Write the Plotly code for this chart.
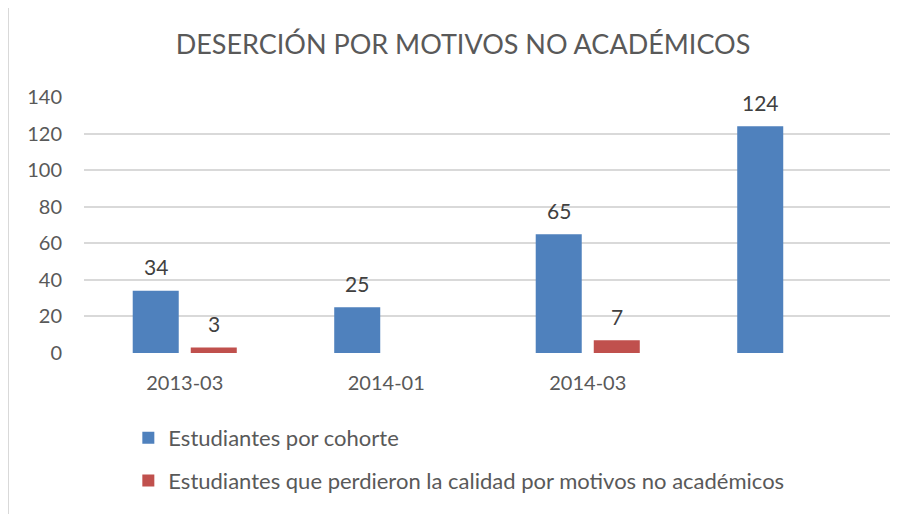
import plotly.graph_objects as go

categories = ["2013-03", "2014-01", "2014-03", " "]
cohorte = [34, 25, 65, 124]
perdieron = [3, None, 7, None]
series_names = [
    "Estudiantes por cohorte",
    "Estudiantes que perdieron la calidad por motivos no académicos",
]
series_colors = ["#4F81BD", "#C0504D"]
y_ticks = [0, 20, 40, 60, 80, 100, 120, 140]

text_color = "#595959"
grid_color = "#D9D9D9"
font_family = "Lato, 'Open Sans', sans-serif"

fig = go.Figure()
for i, (vals, name, color) in enumerate(zip([cohorte, perdieron], series_names, series_colors)):
    fig.add_trace(go.Bar(
        x=categories,
        y=vals,
        name=name,
        marker_color=color,
        marker_line_width=0,
        legendgroup=f"g{i}",
    ))

# data labels, placed a little above each bar like Excel does
annotations = []
for i, vals in enumerate([cohorte, perdieron]):
    shift = -29 if i == 0 else 29
    for cat, v in zip(categories, vals):
        if v is None:
            continue
        annotations.append(dict(
            x=cat, y=v, text=str(v), showarrow=False,
            xshift=shift, yshift=24, yanchor="middle",
            font=dict(size=21, color="#404040", family=font_family),
        ))

# chart area border (only top/left visible in the frame)
fig.add_shape(
    type="rect", xref="paper", yref="paper",
    x0=-0.0943, x1=1.2, y0=-1.0, y1=1.363,
    line=dict(color=grid_color, width=2), layer="below",
)

# the page body adds an 8px offset, so margins are shifted by that amount
fig.update_layout(
    width=907,
    height=514,
    plot_bgcolor="white",
    paper_bgcolor="white",
    font=dict(family=font_family, size=20, color=text_color),
    title=dict(
        text="DESERCIÓN POR MOTIVOS NO ACADÉMICOS",
        x=455 / 907, xref="container", xanchor="center",
        y=1 - 37 / 514, yref="container", yanchor="middle",
        font=dict(size=27, color=text_color, family=font_family),
    ),
    margin=dict(l=76, r=25, t=89, b=169),
    barmode="group",
    bargap=0.424,
    bargroupgap=0.207,
    showlegend=True,
    legend=dict(
        orientation="v",
        x=0.055, xanchor="left",
        y=-0.25, yanchor="top",
        tracegroupgap=11,
        font=dict(size=22, color=text_color),
        bgcolor="rgba(0,0,0,0)",
    ),
    annotations=annotations,
)
fig.update_xaxes(
    type="category",
    automargin=False,
    showgrid=False,
    zeroline=False,
    showline=False,
    ticks="",
    ticklabelstandoff=16,
    tickfont=dict(size=20, color=text_color),
)
fig.update_yaxes(
    range=[0, 140],
    tickvals=y_ticks,
    automargin=False,
    showgrid=True,
    gridcolor=grid_color,
    gridwidth=2,
    zeroline=False,
    showline=False,
    ticks="",
    ticklabelstandoff=21,
    tickfont=dict(size=20, color=text_color),
)

fig.write_html("out.html")
